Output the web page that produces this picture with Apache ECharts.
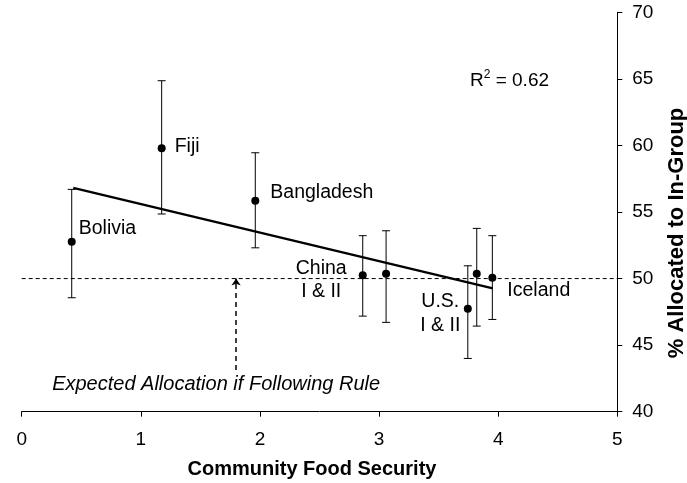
<!DOCTYPE html>
<html>
<head>
<meta charset="utf-8">
<script src="https://cdn.jsdelivr.net/npm/echarts@6/dist/echarts.min.js"></script>
<style>
html,body{margin:0;padding:0;background:#fff;}
#chart{width:687px;height:483px;}
</style>
</head>
<body>
<div id="chart"></div>
<script>
// ---- data ----
const countries   = ['Bolivia','Fiji','Bangladesh','China I','China II','U.S. I','U.S. II','Iceland'];
const pointLabels = ['Bolivia','Fiji','Bangladesh','China\nI & II','','U.S.\nI & II','','Iceland'];
const foodSecurity = [0.42, 1.175, 1.961, 2.863, 3.059, 3.745, 3.82, 3.951];
const allocated    = [52.77, 59.78, 55.85, 50.24, 50.36, 47.73, 50.36, 50.06];
const errLow       = [48.56, 54.85, 52.31, 47.18, 46.71, 44.00, 46.43, 46.93];
const errHigh      = [56.70, 64.86, 59.45, 53.22, 53.59, 50.96, 53.77, 53.22];
const trendX = [0.433, 3.955];
const trendY = [56.82, 49.26];
const ruleValue = 50;
const ruleX = [0, 5];
const arrowX = 1.8;
const arrowY = [43.13, 50.0];
const xTicks = [0, 1, 2, 3, 4, 5];
const yTicks = [40, 45, 50, 55, 60, 65, 70];
const rSquared = '0.62';
const noteText = 'Expected Allocation if Following Rule';

// ---- label placement (style only) ----
const labelStyles = {
  'Bolivia':    {position: 'right', distance: 3,  offset: [0, -13]},
  'Fiji':       {position: 'right', distance: 9,  offset: [0, -2]},
  'Bangladesh': {position: 'right', distance: 11, offset: [0, -8]},
  'China I':    {position: 'inside', offset: [-41.5, 4.5], align: 'center', lineHeight: 23},
  'U.S. I':     {position: 'inside', offset: [-27.5, 5], align: 'center', lineHeight: 24},
  'Iceland':    {position: 'right', distance: 11, offset: [0, 13]}
};

const FONT = "'Liberation Sans', Arial, Helvetica, sans-serif";

const pointData = countries.map((c, i) => {
  const ls = labelStyles[c];
  return {
    name: c,
    value: [foodSecurity[i], allocated[i]],
    label: ls ? Object.assign({show: true, formatter: pointLabels[i]}, ls) : {show: false}
  };
});
const errData = countries.map((c, i) => [foodSecurity[i], errLow[i], errHigh[i]]);

const chart = echarts.init(document.getElementById('chart'), null, {renderer: 'canvas'});
chart.setOption({
  animation: false,
  backgroundColor: '#fff',
  textStyle: {fontFamily: FONT},
  grid: {left: 21.7, right: 69.7, top: 12.3, bottom: 71.3, containLabel: false, outerBoundsMode: 'none'},
  xAxis: {
    type: 'value', min: xTicks[0], max: xTicks[xTicks.length - 1], interval: 1,
    name: 'Community Food Security', nameLocation: 'middle', nameGap: 48,
    nameTextStyle: {fontFamily: FONT, fontSize: 20, fontWeight: 'bold', color: '#000', padding: [0, 15, 0, 0]},
    axisLine: {show: true, onZero: false, lineStyle: {color: '#000', width: 1}},
    axisTick: {show: true, inside: false, length: 5, lineStyle: {color: '#000'}},
    axisLabel: {fontFamily: FONT, fontSize: 19, color: '#000', margin: 19},
    splitLine: {show: false}
  },
  yAxis: {
    type: 'value', position: 'right', min: yTicks[0], max: yTicks[yTicks.length - 1], interval: 5,
    name: '% Allocated to In-Group', nameLocation: 'middle', nameGap: 49, nameRotate: 90,
    nameTextStyle: {fontFamily: FONT, fontSize: 22, fontWeight: 'bold', color: '#000', padding: [0, 42, 0, 0]},
    axisLine: {show: true, onZero: false, lineStyle: {color: '#000', width: 1}},
    axisTick: {show: true, inside: false, length: 5, lineStyle: {color: '#000'}},
    axisLabel: {fontFamily: FONT, fontSize: 19, color: '#000', margin: 15},
    splitLine: {show: false}
  },
  graphic: [{
    type: 'text', left: 470, top: 69,
    style: {
      text: '{r|R}{s|2}{r| = ' + rSquared + '}',
      rich: {
        r: {fontFamily: FONT, fontSize: 19, color: '#000', lineHeight: 21, verticalAlign: 'bottom'},
        s: {fontFamily: FONT, fontSize: 12, color: '#000', lineHeight: 21, verticalAlign: 'top'}
      }
    }
  }],
  series: [
    {
      name: 'rule', type: 'line', silent: true, symbol: 'none',
      data: ruleX.map(x => [x, ruleValue]),
      lineStyle: {color: '#000', width: 1, type: [4, 3]}
    },
    {
      name: 'arrow', type: 'lines', coordinateSystem: 'cartesian2d', silent: true,
      symbol: ['none', 'arrow'], symbolSize: 7,
      data: [{coords: [[arrowX, arrowY[0]], [arrowX, arrowY[1]]]}],
      lineStyle: {color: '#000', width: 1.5, type: [5, 4], opacity: 1}
    },
    {
      name: 'note', type: 'scatter', silent: true, symbolSize: 0,
      itemStyle: {opacity: 1},
      data: [[arrowX, arrowY[0]]],
      label: {show: true, formatter: noteText, position: 'inside', offset: [-20, 14],
        fontFamily: FONT, fontSize: 20, fontStyle: 'italic', color: '#000'}
    },
    {
      name: 'errors', type: 'custom', silent: true,
      data: errData,
      renderItem: function (params, api) {
        const x = api.value(0), lo = api.value(1), hi = api.value(2);
        const a = api.coord([x, hi]), b = api.coord([x, lo]);
        const hw = 4;
        const st = {stroke: '#000', lineWidth: 1};
        return {type: 'group', children: [
          {type: 'line', shape: {x1: a[0], y1: a[1], x2: b[0], y2: b[1]}, style: st},
          {type: 'line', shape: {x1: a[0] - hw, y1: a[1], x2: a[0] + hw, y2: a[1]}, style: st},
          {type: 'line', shape: {x1: b[0] - hw, y1: b[1], x2: b[0] + hw, y2: b[1]}, style: st}
        ]};
      }
    },
    {
      name: 'trend', type: 'line', silent: true, symbol: 'none',
      data: trendX.map((x, i) => [x, trendY[i]]),
      lineStyle: {color: '#000', width: 2.3}
    },
    {
      name: 'countries', type: 'scatter', symbol: 'circle', symbolSize: 8,
      itemStyle: {color: '#000', opacity: 1},
      label: {fontFamily: FONT, fontSize: 19.5, color: '#000'},
      data: pointData
    }
  ]
});
</script>
</body>
</html>
